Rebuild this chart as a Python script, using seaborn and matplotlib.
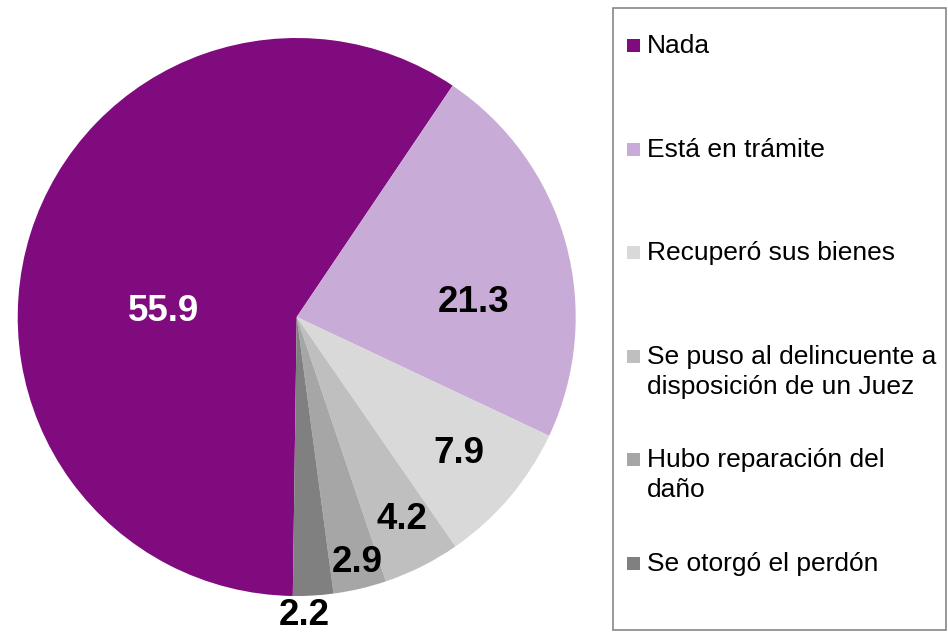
import numpy as np
import matplotlib
matplotlib.use("Agg")
import matplotlib.pyplot as plt
import seaborn as sns
from matplotlib.patches import Rectangle

categories = ["Nada", "Está en trámite", "Recuperó sus bienes",
              "Se puso al delincuente a\ndisposición de un Juez",
              "Hubo reparación del\ndaño", "Se otorgó el perdón"]
values = [55.9, 21.3, 7.9, 4.2, 2.9, 2.2]
value_labels = ["55.9", "21.3", "7.9", "4.2", "2.9", "2.2"]
colors = ["#7F0B7E", "#C8ABD6", "#D9D9D9", "#BFBFBF", "#A6A6A6", "#808080"]
text_colors = ["white", "black", "black", "black", "black", "black"]

# where the value labels sit (fraction of radius) and small angle nudges
label_radius = [0.478, 0.638, 0.755, 0.81, 0.895, 1.06]
label_nudge = [13.8, -9.8, 0.8, 1.2, 0.8, -2.0]

sns.set_theme(style="white")
plt.rcParams["font.family"] = ["Liberation Sans", "DejaVu Sans"]

W, H = 948, 635
fig = plt.figure(figsize=(W / 100, H / 100), dpi=100)
ax = fig.add_axes([17.7 / W, 39 / H, 558 / W, 558 / H])

wedges, _ = ax.pie(values, colors=colors, startangle=-90.8, counterclock=False,
                   wedgeprops=dict(linewidth=0))
ax.set_xlim(-1, 1)
ax.set_ylim(-1, 1)
ax.set_aspect("equal")
ax.axis("off")

for w, lab, r, nudge, tc in zip(wedges, value_labels, label_radius, label_nudge, text_colors):
    ang = np.deg2rad((w.theta1 + w.theta2) / 2 + nudge)
    ax.annotate(lab, (r * np.cos(ang), r * np.sin(ang)), xytext=(0, -2),
                textcoords="offset points", ha="center", va="center",
                fontsize=26.5, fontweight="bold", color=tc, annotation_clip=False)


def fy(px):
    # pixels from the top -> figure fraction
    return 1 - px / H


# legend drawn by hand, Excel style: equal slots, marker on the first line
fig.patches.append(Rectangle((613 / W, fy(630)), 333 / W, 622 / H,
                             transform=fig.transFigure, fill=False,
                             edgecolor="#868686", linewidth=1.2))
first_baseline, slot, line_step = 53, 103.6, 30
for i, (lab, c) in enumerate(zip(categories, colors)):
    base = first_baseline + i * slot
    fig.patches.append(Rectangle((627 / W, fy(base - 1)), 13 / W, 13 / H,
                                 transform=fig.transFigure, facecolor=c,
                                 edgecolor="none"))
    for j, line in enumerate(lab.split("\n")):
        fig.text(647 / W, fy(base + j * line_step), line, ha="left",
                 va="baseline", fontsize=19, color="black")

fig.savefig("out.png", dpi=100)
